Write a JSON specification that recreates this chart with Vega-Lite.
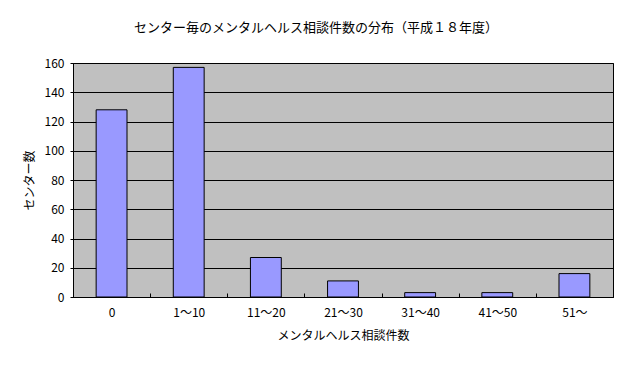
{
  "$schema": "https://vega.github.io/schema/vega-lite/v6.json",
  "width": 540,
  "height": 234,
  "autosize": {"type": "none"},
  "padding": {"left": 73, "top": 63, "right": 23, "bottom": 73},
  "background": "white",
  "title": {
    "text": "センター毎のメンタルヘルス相談件数の分布（平成１８年度）",
    "font": "Noto Sans CJK JP",
    "fontSize": 13,
    "fontWeight": "normal",
    "color": "#000",
    "anchor": "middle",
    "dx": -27,
    "offset": 22
  },
  "data": {
    "values": [
      {"range": "0", "count": 128},
      {"range": "1〜10", "count": 157},
      {"range": "11〜20", "count": 27},
      {"range": "21〜30", "count": 11},
      {"range": "31〜40", "count": 3},
      {"range": "41〜50", "count": 3},
      {"range": "51〜", "count": 16}
    ]
  },
  "mark": {"type": "bar", "fill": "#9999FF", "stroke": "#000", "strokeWidth": 1, "width": {"band": 0.4}},
  "encoding": {
    "x": {
      "field": "range",
      "type": "nominal",
      "sort": null,
      "scale": {"paddingInner": 0, "paddingOuter": 0},
      "axis": {
        "title": "メンタルヘルス相談件数",
        "labelAngle": 0,
        "tickBand": "extent",
        "tickSize": -4,
        "tickColor": "#000",
        "domainColor": "#000",
        "labelPadding": 14,
        "titlePadding": 12
      }
    },
    "y": {
      "field": "count",
      "type": "quantitative",
      "scale": {"domain": [0, 160], "nice": false},
      "axis": {
        "title": "センター数",
        "values": [0, 20, 40, 60, 80, 100, 120, 140, 160],
        "tickSize": 3,
        "tickColor": "#000",
        "domainColor": "#000",
        "gridColor": "#000",
        "gridOpacity": 1,
        "labelPadding": 6,
        "titlePadding": 8
      }
    }
  },
  "config": {
    "font": "Noto Sans CJK JP",
    "view": {"fill": "#C0C0C0", "stroke": "#000", "strokeWidth": 1},
    "axis": {
      "labelFont": "Noto Sans CJK JP",
      "titleFont": "Noto Sans CJK JP",
      "labelFontSize": 12,
      "titleFontSize": 12,
      "titleFontWeight": "normal",
      "labelColor": "#000",
      "titleColor": "#000",
      "domainWidth": 1,
      "tickWidth": 1,
      "gridWidth": 1
    },
    "axisX": {"grid": false}
  }
}
